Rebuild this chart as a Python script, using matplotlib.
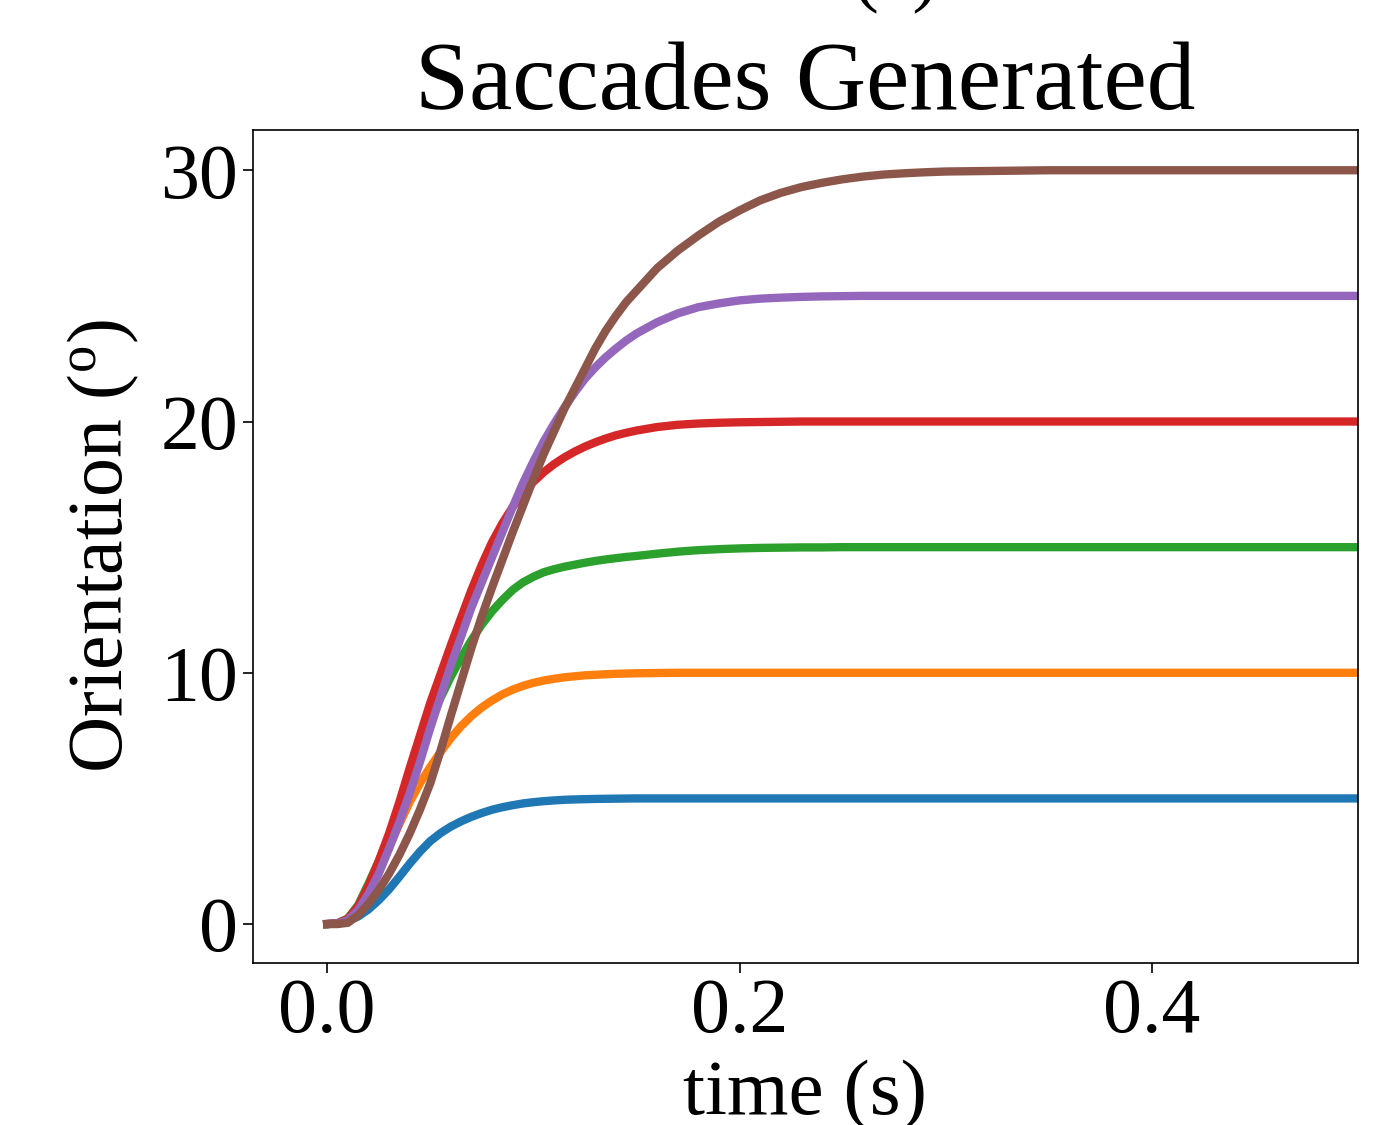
import matplotlib
matplotlib.use("Agg")
from matplotlib import pyplot as plt

plt.rcParams['font.family'] = ['Liberation Serif', 'DejaVu Serif']
plt.rcParams['mathtext.fontset'] = 'custom'
plt.rcParams['mathtext.rm'] = 'Liberation Serif'
plt.rcParams['mathtext.it'] = 'Liberation Serif:italic'

# time samples (s)
times = [0.0, 0.005, 0.01, 0.015, 0.02, 0.025, 0.03, 0.035, 0.04, 0.045,
         0.05, 0.055, 0.06, 0.065, 0.07, 0.075, 0.08, 0.085, 0.09, 0.095,
         0.10, 0.105, 0.11, 0.115, 0.12, 0.125, 0.13, 0.135, 0.14, 0.145,
         0.15, 0.16, 0.17, 0.18, 0.19, 0.20, 0.21, 0.22, 0.23, 0.24,
         0.25, 0.26, 0.27, 0.28, 0.29, 0.30, 0.35, 0.40, 0.50]

# orientation (deg) of each generated saccade
sacc_5 = [0, 0.02, 0.12, 0.3, 0.58, 0.95, 1.38, 1.88, 2.4, 2.88,
          3.3, 3.62, 3.88, 4.09, 4.27, 4.42, 4.55, 4.65, 4.73, 4.8,
          4.85, 4.89, 4.92, 4.945, 4.96, 4.97, 4.98, 4.985, 4.99, 4.995,
          5.0, 5.0, 5.0, 5.0, 5.0, 5.0, 5.0, 5.0, 5.0, 5.0,
          5.0, 5.0, 5.0, 5.0, 5.0, 5.0, 5.0, 5.0, 5.0]
sacc_10 = [0, 0.02, 0.18, 0.6, 1.3, 2.15, 3.05, 3.98, 4.85, 5.6,
           6.25, 6.85, 7.4, 7.88, 8.28, 8.62, 8.9, 9.14, 9.33, 9.48,
           9.6, 9.69, 9.76, 9.82, 9.86, 9.9, 9.92, 9.94, 9.96, 9.97,
           9.98, 9.99, 10.0, 10.0, 10.0, 10.0, 10.0, 10.0, 10.0, 10.0,
           10.0, 10.0, 10.0, 10.0, 10.0, 10.0, 10.0, 10.0, 10.0]
sacc_15 = [0, 0.03, 0.22, 0.75, 1.6, 2.5, 3.5, 4.6, 5.8, 6.95,
           8.05, 9.0, 9.85, 10.6, 11.3, 11.92, 12.45, 12.9, 13.3, 13.6,
           13.82, 14.0, 14.12, 14.22, 14.3, 14.38, 14.45, 14.51, 14.56, 14.61,
           14.65, 14.74, 14.82, 14.88, 14.92, 14.95, 14.97, 14.98, 14.99, 14.99,
           15.0, 15.0, 15.0, 15.0, 15.0, 15.0, 15.0, 15.0, 15.0]
sacc_20 = [0, 0.03, 0.2, 0.7, 1.5, 2.5, 3.6, 4.85, 6.2, 7.5,
           8.8, 9.95, 11.1, 12.2, 13.3, 14.3, 15.2, 15.95, 16.6, 17.15,
           17.6, 17.98, 18.3, 18.57, 18.8, 19.0, 19.17, 19.32, 19.45, 19.55,
           19.64, 19.78, 19.87, 19.92, 19.95, 19.97, 19.98, 19.99, 20.0, 20.0,
           20.0, 20.0, 20.0, 20.0, 20.0, 20.0, 20.0, 20.0, 20.0]
sacc_25 = [0, 0.02, 0.15, 0.55, 1.2, 2.0, 3.0, 4.05, 5.2, 6.45,
           7.8, 9.05, 10.3, 11.45, 12.6, 13.6, 14.6, 15.6, 16.6, 17.55,
           18.4, 19.2, 19.9, 20.55, 21.15, 21.7, 22.15, 22.55, 22.9, 23.22,
           23.5, 23.95, 24.3, 24.55, 24.7, 24.82, 24.89, 24.93, 24.96, 24.98,
           24.99, 25.0, 25.0, 25.0, 25.0, 25.0, 25.0, 25.0, 25.0]
sacc_30 = [0, 0, 0.05, 0.35, 0.8, 1.35, 2.0, 2.75, 3.6, 4.55,
           5.6, 6.9, 8.3, 9.65, 11.0, 12.25, 13.4, 14.5, 15.6, 16.65,
           17.7, 18.7, 19.6, 20.5, 21.3, 22.1, 22.9, 23.6, 24.2, 24.75,
           25.2, 26.1, 26.8, 27.4, 27.95, 28.4, 28.8, 29.1, 29.33, 29.5,
           29.64, 29.75, 29.83, 29.88, 29.92, 29.95, 30.0, 30.0, 30.0]

series = [sacc_5, sacc_10, sacc_15, sacc_20, sacc_25, sacc_30]

fig = plt.figure(figsize=(13.86, 11.25), dpi=100)
ax = fig.add_axes([0.1825, 0.144, 0.7973, 0.7404])

for i, s in enumerate(series):
    ax.plot(times, s, color='C%d' % i, linewidth=6)

ax.set_xlim(-0.036, 0.5)
ax.set_ylim(-1.55, 31.6)
ax.set_xticks([0.0, 0.2, 0.4])
ax.set_yticks([0, 10, 20, 30])
ax.tick_params(labelsize=56, length=7, width=1.2)
for sp in ax.spines.values():
    sp.set_linewidth(1.2)

ax.set_title('Saccades Generated', fontsize=70, pad=14)
ax.set_xlabel('time (s)', fontsize=57, labelpad=8)
ax.set_ylabel(r'Orientation ($^\mathrm{o}$)', fontsize=56, labelpad=14)

# panel label above the title, cut by the top edge as in the source
fig.text(0.6465, 1 + 3 / 1125, '(a)', fontsize=56, ha='center', va='baseline')

fig.savefig('out.png', dpi=100)
